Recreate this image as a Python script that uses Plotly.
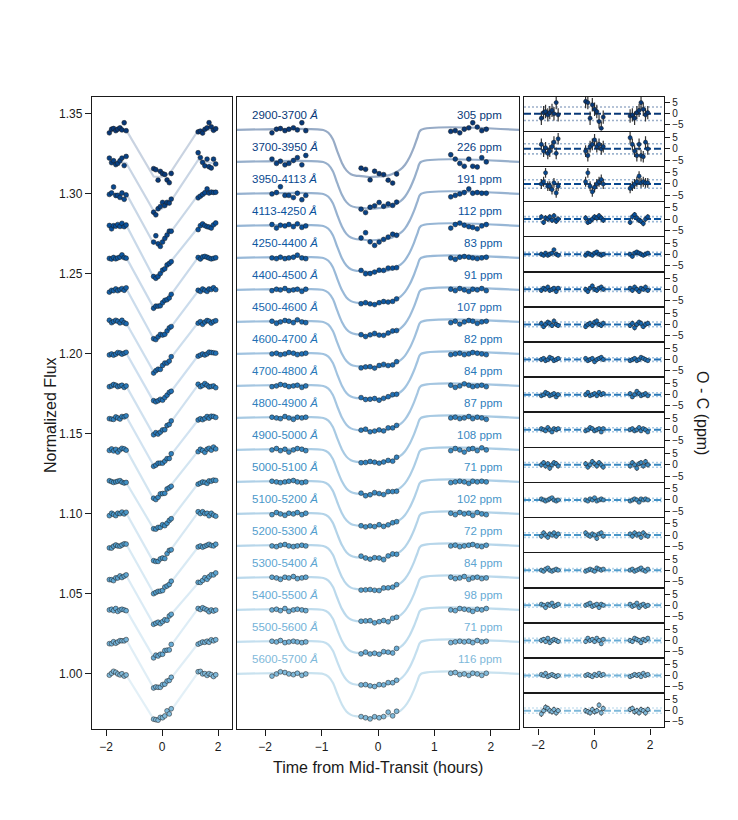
import numpy as np
import plotly.graph_objects as go
from plotly.colors import sample_colorscale

# spectral channels, top to bottom
labels = ["2900-3700", "3700-3950", "3950-4113", "4113-4250", "4250-4400",
          "4400-4500", "4500-4600", "4600-4700", "4700-4800", "4800-4900",
          "4900-5000", "5000-5100", "5100-5200", "5200-5300", "5300-5400",
          "5400-5500", "5500-5600", "5600-5700"]
ppm = [305, 226, 191, 112, 83, 91, 107, 82, 84, 87, 108, 71, 102, 72, 84, 98, 71, 116]
baselines = [1.34, 1.32, 1.30, 1.28, 1.26, 1.24, 1.22, 1.20, 1.18, 1.16,
             1.14, 1.12, 1.10, 1.08, 1.06, 1.04, 1.02, 1.00]
depths = [0.0294, 0.0292, 0.0290, 0.0288, 0.0287, 0.0285, 0.0284, 0.0283, 0.0282,
          0.0281, 0.0280, 0.0279, 0.0278, 0.0277, 0.0276, 0.0275, 0.0274, 0.0272]
errs = [3.0, 2.6, 2.2, 1.2, 0.9, 1.0, 1.1, 0.9, 0.9, 0.9, 1.1, 0.8, 1.0, 0.8, 0.9, 1.0, 0.8, 1.2]

# exposure times (hours from mid-transit), three HST orbits
times = [-1.88, -1.80, -1.73, -1.65, -1.58, -1.50, -1.43, -1.35, -1.28,
         -0.30, -0.22, -0.14, -0.06, 0.02, 0.10, 0.18, 0.26, 0.33,
         1.29, 1.37, 1.45, 1.53, 1.61, 1.68, 1.76, 1.84, 1.92]
# transit model (fraction of depth) at the exposure times
model_at_times = [0, 0, 0, 0, 0, 0, 0, 0, 0,
                  0.98, 0.99, 1.0, 1.0, 0.99, 0.98, 0.96, 0.93, 0.89,
                  0, 0, 0, 0, 0, 0, 0, 0, 0]
# transit model curve
model_t = [-2.5, -0.97, -0.88, -0.80, -0.72, -0.64, -0.56, -0.48, -0.40, -0.30, -0.15,
           0.0, 0.10, 0.20, 0.30, 0.40, 0.48, 0.56, 0.64, 0.70, 0.76, 2.5]
model_frac = [0, 0, 0.06, 0.20, 0.46, 0.70, 0.86, 0.94, 0.97, 0.98, 1.0,
              0.99, 0.98, 0.96, 0.91, 0.84, 0.74, 0.58, 0.36, 0.16, 0, 0]

# O - C residuals per channel
r01 = [-2.0, 0.5, 1.0, -0.5, 0.5, 1.5, 0.0, 5.0, -0.5,
       5.5, 5.0, -2.0, 4.0, 2.0, 1.0, -3.5, -6.5, -1.5,
       -1.0, -0.5, -2.0, 0.5, 1.5, 5.0, 2.0, -0.5, 0.5]
r02 = [2.0, -1.0, 0.5, -2.0, -1.0, 1.0, 3.0, -2.0, 4.5,
       -1.0, -3.0, 1.0, 2.0, 4.0, 1.0, 2.0, 0.0, 1.0,
       5.0, 2.0, -1.0, -3.0, 2.0, -3.0, -3.5, 3.0, 0.0]
r03 = [0.0, 1.0, 5.0, -1.0, -1.0, -2.5, 0.5, -4.0, -1.0,
       1.0, 5.0, -1.0, -3.5, -1.5, 0.0, 1.0, 2.0, 0.0,
       -2.0, -1.0, 0.0, 1.0, 3.5, 0.5, 1.0, 0.5, 0.5]
r04 = [1.0, -1.5, 0.5, 0.0, 1.0, -0.5, 1.5, -1.0, 0.0,
       0.5, -1.5, -1.0, 0.0, 1.0, 0.5, 1.5, 0.5, -0.5,
       -1.5, 1.0, 2.0, 0.5, -0.5, -1.0, -2.0, 0.0, 1.0]
r05 = [0.0, -0.5, 0.5, -0.5, 0.0, 0.5, 2.0, 0.0, -0.5,
       -0.5, 0.5, 0.0, -0.5, 0.5, 1.0, 0.0, -0.5, 0.0,
       0.0, -1.0, 0.5, 1.0, 0.5, 0.0, -0.5, 0.0, 0.5]
r06 = [-0.5, 0.5, 0.0, 1.0, -0.5, 0.0, 0.5, -1.0, 0.5,
       0.0, -1.0, 0.5, 1.5, 0.0, -0.5, 0.5, 1.0, 0.0,
       0.5, -0.5, 1.0, 0.0, -1.0, 0.5, 0.0, 1.0, -0.5]
r07 = [0.5, -1.0, 0.0, 1.0, 0.5, -0.5, 1.5, 0.0, -0.5,
       -1.0, 0.0, 0.5, -0.5, 1.0, 1.5, 0.0, -0.5, 0.5,
       -0.5, 0.5, -1.5, 0.0, 1.0, 0.5, -1.0, 0.0, 0.5]
r08 = [0.0, 0.5, -0.5, 0.0, 1.0, 0.5, -0.5, 0.0, 0.5,
       0.5, -0.5, 0.0, 0.5, -1.0, 0.0, 0.5, 1.0, 0.0,
       -0.5, 0.0, 0.5, -0.5, 0.0, 1.0, 0.5, 0.0, -0.5]
r09 = [-0.5, 0.0, 1.0, 0.5, -0.5, 0.0, 0.5, -1.0, 0.0,
       0.0, 1.0, -0.5, 0.0, 0.5, -0.5, 1.0, 0.0, 0.5,
       0.5, -1.0, 0.0, 1.5, 0.5, -0.5, 0.0, 0.5, -0.5]
r10 = [0.5, 0.0, -0.5, 1.0, 0.0, -1.0, 0.5, 0.0, 0.5,
       -0.5, 0.0, 1.0, 0.5, -0.5, 0.0, 0.5, -1.0, 0.5,
       0.0, 0.5, -0.5, 0.0, 1.0, -0.5, 0.5, 0.0, -1.0]
r11 = [0.0, 1.0, -0.5, 0.5, -1.5, 0.0, 1.0, 0.5, -0.5,
       0.5, -1.0, 0.0, 1.5, 0.5, -0.5, 1.0, 0.0, -1.0,
       -0.5, 1.0, 0.0, -1.5, 0.5, 1.0, -0.5, 1.5, 0.0]
r12 = [0.5, 0.0, -0.5, 0.0, 0.5, 1.0, 0.0, -0.5, 0.0,
       0.0, -0.5, 0.5, 0.0, 1.0, -0.5, 0.0, 0.5, 0.0,
       -0.5, 0.0, 0.5, 0.0, -1.0, 0.5, 0.0, 0.5, 0.0]
r13 = [-0.5, 1.0, 0.0, -1.0, 0.5, 0.0, 1.0, -0.5, 0.5,
       1.0, 0.0, -0.5, 0.5, 0.0, -1.5, 0.5, 1.0, -0.5,
       0.5, -0.5, 1.0, 0.0, 0.5, -1.0, 1.0, 0.0, -0.5]
r14 = [0.0, -0.5, 0.5, 1.0, 0.0, -0.5, 0.0, 0.5, 0.0,
       -0.5, 0.0, 0.5, 0.0, -0.5, 1.0, 0.5, 0.0, 0.5,
       0.0, 0.5, -0.5, 0.0, 0.5, 1.0, 0.0, -0.5, 0.5]
r15 = [0.5, 0.0, -1.0, 0.5, 0.0, 1.0, -0.5, 0.0, 0.5,
       0.0, 0.5, 1.0, -0.5, 0.0, 0.5, -1.0, 0.5, 0.0,
       0.5, -0.5, 0.0, 1.0, -1.0, 0.0, 0.5, -0.5, 0.0]
r16 = [0.0, 0.5, -0.5, 1.0, -1.0, 0.0, 0.5, 0.0, -0.5,
       -0.5, 1.0, 0.0, 0.5, -0.5, 1.0, 0.0, -1.5, 0.5,
       0.0, -0.5, 1.0, 0.5, 0.0, -1.0, 0.5, 0.0, 1.0]
r17 = [0.5, 0.0, 1.0, -0.5, 0.0, 0.5, 0.0, -0.5, 0.0,
       0.0, 0.5, 0.0, -0.5, 0.5, 0.0, 1.0, 0.0, 0.5,
       -0.5, 0.0, 0.5, 0.0, 0.5, -0.5, 1.0, 0.0, 0.5]
r18 = [-1.5, 0.0, 1.5, 1.0, 0.0, -0.5, 0.5, -1.0, 0.0,
       0.0, -0.5, -1.0, 0.5, -0.5, 0.0, 2.5, -1.0, 1.0,
       0.5, 1.0, -0.5, 0.0, -1.0, 0.5, 0.0, -1.0, 0.5]
residuals = [r01, r02, r03, r04, r05, r06, r07, r08, r09,
             r10, r11, r12, r13, r14, r15, r16, r17, r18]

# instrument trends in the raw light curves (flux per hour within each orbit)
left_slopes = [[0.000, 0.001, 0.001], [-0.002, 0.006, -0.004], [0.001, 0.008, 0.002],
               [0.002, 0.012, 0.003], [0.001, 0.009, -0.001], [0.003, 0.008, 0.002],
               [-0.002, 0.010, 0.001], [0.002, 0.006, 0.003], [0.000, 0.009, -0.002],
               [0.003, 0.007, 0.004], [0.001, 0.010, 0.002], [-0.001, 0.006, 0.003],
               [0.002, 0.009, -0.003], [0.004, 0.007, 0.002], [0.005, 0.006, 0.010],
               [0.000, 0.008, -0.003], [0.005, 0.006, 0.003], [-0.002, 0.005, -0.003]]

scale = 0.0009  # residual units -> flux
OFF = 8  # page body margin
W, H = 738 - OFF, 820 - OFF
FONT = "Liberation Sans, Arial, sans-serif"


def px(x):
    return (x - OFF) / W


def py(y):
    return 1 - (y - OFF) / H


def rgba(c, a):
    r, g, b = [float(v) for v in c[c.find("(") + 1:c.find(")")].split(",")[:3]]
    return "rgba(%d,%d,%d,%.2f)" % (r, g, b, a)


colors = sample_colorscale("Blues", list(np.linspace(0.97, 0.45, len(labels))))

t = np.array(times)
groups = [t[:9], t[9:18], t[18:]]
gmid = [g.mean() for g in groups]
gidx = np.repeat([0, 1, 2], 9)

fig = go.Figure()
annotations = []
shapes = []
line_traces = []
point_traces = []

for i in range(len(labels)):
    c = colors[i]
    res = np.array(residuals[i])
    model_pts = baselines[i] - depths[i] * np.array(model_at_times)
    trend = np.array([left_slopes[i][g] for g in gidx]) * (t - np.array(gmid)[gidx])
    left_model = model_pts + trend

    line_traces.append(go.Scatter(x=times, y=left_model, mode="lines",
                                  line=dict(color=rgba(c, 0.22), width=2.2),
                                  xaxis="x", yaxis="y", hoverinfo="skip"))
    line_traces.append(go.Scatter(x=model_t, y=baselines[i] - depths[i] * np.array(model_frac),
                                  mode="lines", line=dict(color=rgba(c, 0.42), width=2.2,
                                                          shape="spline", smoothing=0.8),
                                  xaxis="x2", yaxis="y2", hoverinfo="skip"))
    mk = dict(size=4.8, color=c, line=dict(color="#1a1a1a", width=0.5))
    point_traces.append(go.Scatter(x=times, y=left_model + res * scale, mode="markers",
                                   marker=mk, xaxis="x", yaxis="y"))
    point_traces.append(go.Scatter(x=times, y=model_pts + res * scale, mode="markers",
                                   marker=mk, xaxis="x2", yaxis="y2"))

    k = i + 3
    point_traces.append(go.Scatter(x=times, y=res, mode="markers",
                                   marker=dict(size=4.2, color=c, line=dict(color="#1a1a1a", width=0.5)),
                                   error_y=dict(type="constant", value=errs[i], color="#333333",
                                                thickness=1.2, width=0),
                                   xaxis="x%d" % k, yaxis="y%d" % k))
    for s in (1, -1):
        shapes.append(dict(type="line", xref="x%d domain" % k, yref="y%d" % k,
                           x0=0, x1=1, y0=s * ppm[i] / 100, y1=s * ppm[i] / 100,
                           line=dict(color=rgba(c, 0.4), width=1.6, dash="2px,2px"), layer="below"))
    shapes.append(dict(type="line", xref="x%d domain" % k, yref="y%d" % k,
                       x0=0, x1=1, y0=0, y1=0,
                       line=dict(color=c, width=2, dash="7px,3px"), layer="below"))

    annotations.append(dict(x=-2.27, y=baselines[i] + 0.0094, xref="x2", yref="y2",
                            text="%s <i>Å</i>" % labels[i], showarrow=False,
                            xanchor="left", yanchor="middle",
                            font=dict(family=FONT, size=11.5, color=c)))
    annotations.append(dict(x=2.24, y=baselines[i] + 0.0094, xref="x2", yref="y2",
                            text="%d ppm" % ppm[i], showarrow=False,
                            xanchor="right", yanchor="middle",
                            font=dict(family=FONT, size=11.5, color=c)))

fig.add_traces(line_traces + point_traces)

axis_common = dict(showline=True, mirror=True, linecolor="#1a1a1a", linewidth=1.3,
                   showgrid=False, zeroline=False, ticks="outside", ticklen=6,
                   tickwidth=1, tickcolor="#1a1a1a",
                   tickfont=dict(family=FONT, size=12, color="#1a1a1a"))
ytop, ybot = 97, 729
yrange = [0.9656, 1.3606]

layout = dict(
    width=W, height=H, margin=dict(l=0, r=0, t=0, b=0),
    plot_bgcolor="white", paper_bgcolor="white", showlegend=False,
    xaxis=dict(domain=[px(92), px(232)], range=[-2.5, 2.5], tickvals=[-2, 0, 2],
               anchor="y", **axis_common),
    yaxis=dict(domain=[py(ybot), py(ytop)], range=yrange,
               tickvals=[1.00, 1.05, 1.10, 1.15, 1.20, 1.25, 1.30, 1.35], tickformat=".2f",
               anchor="x", **axis_common),
    xaxis2=dict(domain=[px(237), px(519)], range=[-2.5, 2.5], tickvals=[-2, -1, 0, 1, 2],
                anchor="y2", **axis_common),
    yaxis2=dict(domain=[py(ybot), py(ytop)], range=yrange, anchor="x2",
                **dict(axis_common, ticks="", showticklabels=False)),
)

step = (ybot - ytop) / len(labels)
for i in range(len(labels)):
    k = i + 3
    top = ytop + i * step
    bot = top + step - 1.6
    last = i == len(labels) - 1
    xa = dict(domain=[px(524), px(664)], range=[-2.5, 2.5], anchor="y%d" % k, **axis_common)
    if last:
        xa["tickvals"] = [-2, 0, 2]
    else:
        xa["ticks"] = ""
        xa["showticklabels"] = False
    layout["xaxis%d" % k] = xa
    layout["yaxis%d" % k] = dict(domain=[py(bot), py(top)], range=[-7.5, 7.5],
                                 tickvals=[-5, 0, 5], side="right", anchor="x%d" % k,
                                 **dict(axis_common, ticklen=5,
                                        tickfont=dict(family=FONT, size=10, color="#1a1a1a")))

title_font = dict(family=FONT, size=16, color="#1a1a1a")
annotations += [
    dict(x=px(50), y=py(415), xref="paper", yref="paper", text="Normalized Flux",
         textangle=-90, showarrow=False, xanchor="center", yanchor="middle", font=title_font),
    dict(x=px(378), y=py(767), xref="paper", yref="paper", text="Time from Mid-Transit (hours)",
         showarrow=False, xanchor="center", yanchor="middle", font=title_font),
    dict(x=px(703), y=py(413), xref="paper", yref="paper", text="O - C (ppm)",
         textangle=90, showarrow=False, xanchor="center", yanchor="middle", font=title_font),
]
layout["annotations"] = annotations
layout["shapes"] = shapes

fig.update_layout(**layout)
fig.write_html("out.html")
